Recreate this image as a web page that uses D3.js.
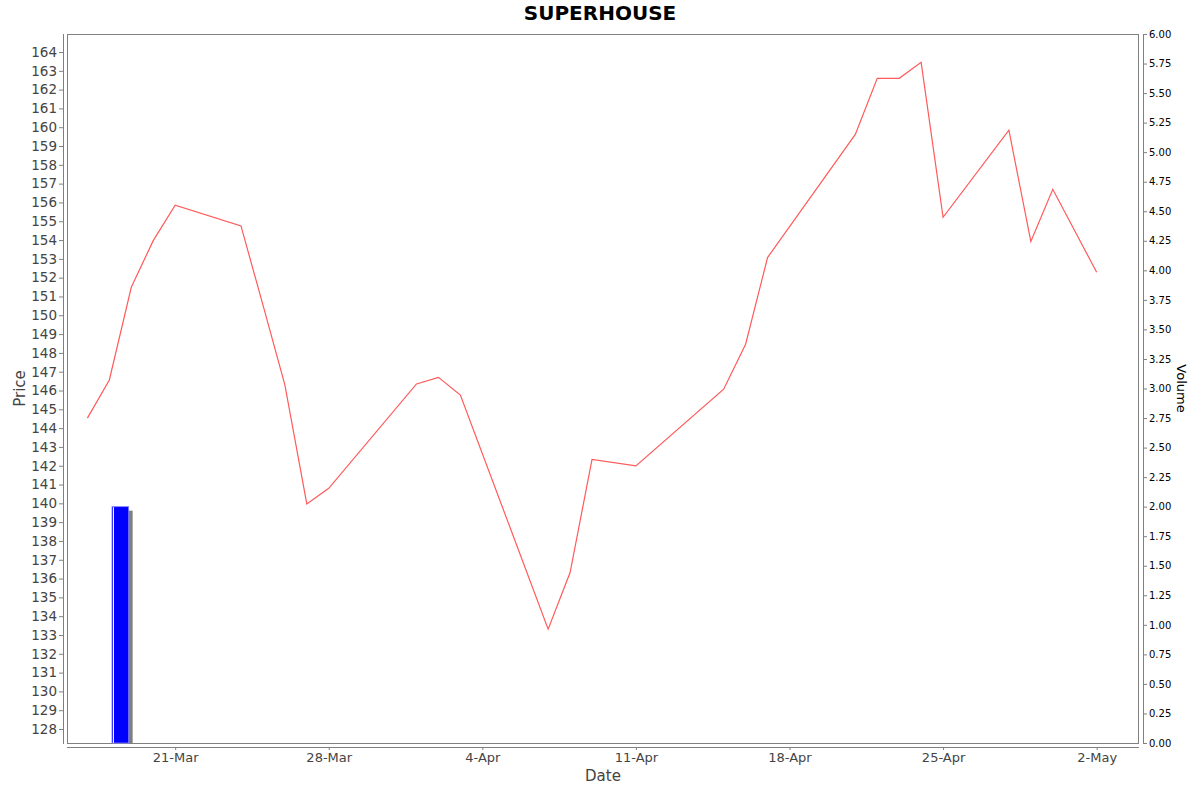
<!DOCTYPE html>
<html>
<head>
<meta charset="utf-8">
<script src="https://cdn.jsdelivr.net/npm/d3@7/dist/d3.min.js"></script>
<style>
  body { margin: 0; background: #fff; }
  text { font-family: "DejaVu Sans", sans-serif; }
</style>
</head>
<body>
<svg id="chart" width="1200" height="792"></svg>
<script>
// trading days and closing prices
const dates = [
  "2025-03-17","2025-03-18","2025-03-19","2025-03-20","2025-03-21",
  "2025-03-24","2025-03-25","2025-03-26","2025-03-27","2025-03-28",
  "2025-04-01","2025-04-02","2025-04-03","2025-04-07","2025-04-08",
  "2025-04-09","2025-04-11","2025-04-15","2025-04-16","2025-04-17",
  "2025-04-21","2025-04-22","2025-04-23","2025-04-24","2025-04-25",
  "2025-04-28","2025-04-29","2025-04-30","2025-05-02"
];
const prices = [
  144.53, 146.56, 151.49, 153.97, 155.85,
  154.75, 150.55, 146.30, 139.97, 140.80,
  146.35, 146.70, 145.76, 133.31, 136.32,
  142.34, 141.99, 146.07, 148.46, 153.07,
  159.62, 162.60, 162.60, 163.45, 155.21,
  159.84, 153.93, 156.70, 152.29
];
const volumes = [
  0, 2, 0, 0, 0,
  0, 0, 0, 0, 0,
  0, 0, 0, 0, 0,
  0, 0, 0, 0, 0,
  0, 0, 0, 0, 0,
  0, 0, 0, 0
];
const priceTicks = d3.range(128, 165, 1);
const volumeTicks = d3.range(0, 6.01, 0.25);
const dateTicks = ["2025-03-21","2025-03-28","2025-04-04","2025-04-11","2025-04-18","2025-04-25","2025-05-02"];

const parse = d3.utcParse("%Y-%m-%d");
const data = dates.map((d, i) => ({ date: parse(d), price: prices[i], volume: volumes[i] }));

const svg = d3.select("#chart");
const plot = { left: 67, right: 1139, top: 34, bottom: 743 };
const DAY = 864e5;

const x = d3.scaleUtc()
  .domain([new Date(+data[0].date - 0.93 * DAY), new Date(+data[data.length - 1].date + 1.93 * DAY)])
  .range([plot.left, plot.right]);
const y = d3.scaleLinear().domain([127.256, 164.957]).range([plot.bottom, plot.top]);
const yVol = d3.scaleLinear().domain([0, 6]).range([plot.bottom, plot.top]);

const grey = "#808080";

// title
svg.append("text")
  .attr("x", 600).attr("y", 20)
  .attr("text-anchor", "middle")
  .style("font-size", "20px").style("font-weight", "bold")
  .text("SUPERHOUSE");

// plot outline
svg.append("rect")
  .attr("x", plot.left + 0.5).attr("y", plot.top + 0.5)
  .attr("width", plot.right - plot.left - 1).attr("height", plot.bottom - plot.top)
  .attr("fill", "#fff").attr("stroke", grey);

// volume bars (day period with margin), shadow first
const bars = data.filter(d => d.volume > 0);
const barX0 = d => x(d.date) + (x(new Date(+d.date + DAY)) - x(d.date)) * 0.12;
const barX1 = d => x(d.date) + (x(new Date(+d.date + DAY)) - x(d.date)) * 0.88;

svg.selectAll(".shadow").data(bars).enter().append("rect")
  .attr("class", "shadow")
  .attr("x", d => barX0(d) + 4).attr("y", d => yVol(d.volume) + 4)
  .attr("width", d => barX1(d) - barX0(d)).attr("height", d => plot.bottom - yVol(d.volume) - 4)
  .attr("fill", "#7f7f7f");

svg.selectAll(".bar").data(bars).enter().append("rect")
  .attr("class", "bar")
  .attr("x", barX0).attr("y", d => yVol(d.volume))
  .attr("width", d => barX1(d) - barX0(d)).attr("height", d => plot.bottom - yVol(d.volume))
  .attr("fill", "#0000ff").attr("stroke", "#8080ff").attr("stroke-width", 0.8);

svg.selectAll(".bar-hl").data(bars).enter().append("line")
  .attr("class", "bar-hl")
  .attr("x1", d => barX0(d) + 1.5).attr("x2", d => barX0(d) + 1.5)
  .attr("y1", d => yVol(d.volume) + 0.5).attr("y2", plot.bottom)
  .attr("stroke", "#ffffff").attr("stroke-width", 1);

// price line
svg.append("path")
  .datum(data)
  .attr("fill", "none")
  .attr("stroke", "#ff5a5a")
  .attr("stroke-width", 1.2)
  .attr("d", d3.line().x(d => x(d.date)).y(d => y(d.price)));

// left axis (price)
const yAxisG = svg.append("g").attr("transform", "translate(63,0)")
  .call(d3.axisLeft(y).tickValues(priceTicks).tickSize(4).tickPadding(2).tickSizeOuter(0));
yAxisG.select(".domain").attr("stroke", grey).attr("d", `M0.5,${plot.top}V${plot.bottom + 1}`);
yAxisG.selectAll(".tick line").attr("stroke", grey);
yAxisG.selectAll(".tick text").attr("fill", "#444").style("font-size", "13.5px");

// right axis (volume)
const vAxisG = svg.append("g").attr("transform", "translate(1143,0)")
  .call(d3.axisRight(yVol).tickValues(volumeTicks).tickFormat(d3.format(".2f")).tickSize(4).tickPadding(2));
vAxisG.select(".domain").attr("stroke", grey).attr("d", `M0.5,${plot.top}V${plot.bottom + 1}`);
vAxisG.selectAll(".tick line").attr("stroke", grey);
vAxisG.selectAll(".tick text").attr("fill", "#000").style("font-size", "10px");

// bottom axis (date)
const xAxisG = svg.append("g").attr("transform", "translate(0,747)")
  .call(d3.axisBottom(x).tickValues(dateTicks.map(parse)).tickFormat(d3.utcFormat("%-d-%b")).tickSize(3).tickPadding(3));
xAxisG.select(".domain").attr("stroke", grey).attr("d", `M${plot.left},0.5H${plot.right}`);
xAxisG.selectAll(".tick line").attr("stroke", grey);
xAxisG.selectAll(".tick text").attr("fill", "#444").style("font-size", "13px");

// axis titles
svg.append("text")
  .attr("transform", `translate(25,${(plot.top + plot.bottom) / 2}) rotate(-90)`)
  .attr("text-anchor", "middle")
  .attr("fill", "#444")
  .style("font-size", "15px")
  .text("Price");

svg.append("text")
  .attr("x", (plot.left + plot.right) / 2).attr("y", 781)
  .attr("text-anchor", "middle")
  .attr("fill", "#444")
  .style("font-size", "15px")
  .text("Date");

svg.append("text")
  .attr("transform", `translate(1177,${(plot.top + plot.bottom) / 2}) rotate(90)`)
  .attr("text-anchor", "middle")
  .attr("fill", "#000")
  .style("font-size", "13px")
  .text("Volume");
</script>
</body>
</html>
